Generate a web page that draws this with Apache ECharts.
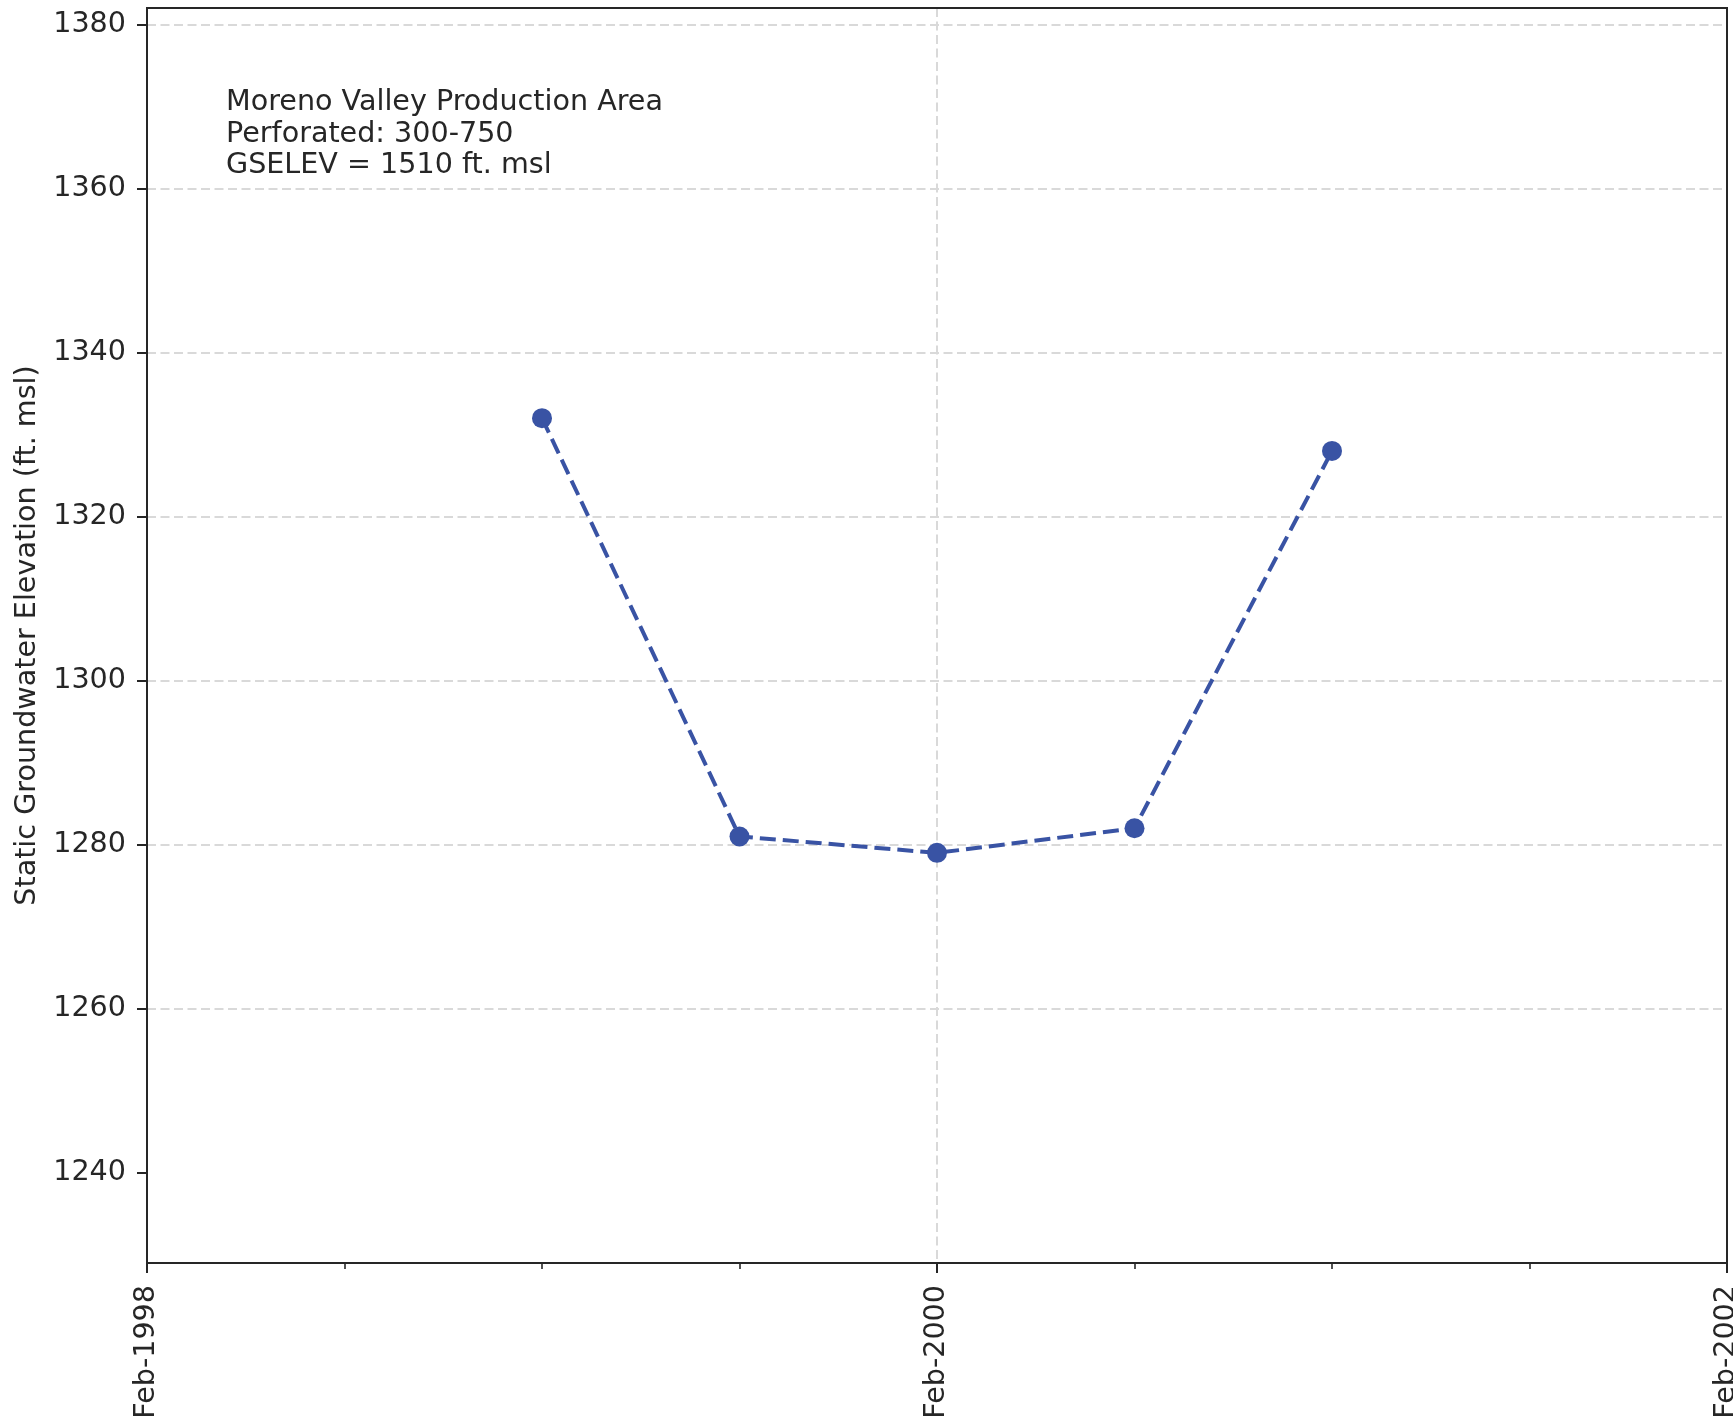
<!DOCTYPE html>
<html><head><meta charset="utf-8">
<script src="https://cdn.jsdelivr.net/npm/echarts@6/dist/echarts.min.js"></script>
<style>html,body{margin:0;padding:0;background:#fff}#c{width:1733px;height:1419px}</style>
</head><body><div id="c"></div>
<script>
// ---- data ----
const dates = ['1999-02', '1999-08', '2000-02', '2000-08', '2001-02'];
const elevations = [1332, 1281, 1279, 1282, 1328];
const xTickLabels = ['Feb-1998', 'Feb-2000', 'Feb-2002'];
const yTicks = [1240, 1260, 1280, 1300, 1320, 1340, 1360, 1380];
const annotationLines = ['Moreno Valley Production Area', 'Perforated: 300-750', 'GSELEV = 1510 ft. msl'];
const yAxisTitle = 'Static Groundwater Elevation (ft. msl)';
const axisStart = '1998-02';

// months since axis start (Feb-1998)
function monthIndex(s) {
  const [y, m] = s.split('-').map(Number);
  const [y0, m0] = axisStart.split('-').map(Number);
  return (y - y0) * 12 + (m - m0);
}
const seriesData = dates.map((d, i) => [monthIndex(d), elevations[i]]);

const FONT = 'DejaVu Sans';
const TXT = '#262626';
const FS = 28.6;

const chart = echarts.init(document.getElementById('c'), null, {renderer: 'canvas'});
chart.setOption({
  animation: false,
  backgroundColor: '#ffffff',
  grid: {left: 147, right: 6, top: 8, bottom: 156, outerBoundsMode: 'none', containLabel: false,
         show: true, borderColor: TXT, borderWidth: 2, backgroundColor: 'transparent', z: 3},
  xAxis: {
    type: 'value', min: 0, max: 48, interval: 24,
    axisLine: {show: true, onZero: false, lineStyle: {color: TXT, width: 2}},
    axisTick: {show: true, length: 10, lineStyle: {color: TXT, width: 2}},
    minorTick: {show: true, splitNumber: 4, length: 6, lineStyle: {color: TXT, width: 1.6}},
    axisLabel: {
      rotate: 90, margin: 22, color: TXT, fontFamily: FONT, fontSize: FS,
      formatter: v => xTickLabels[Math.round(v / 24)] || ''
    },
    splitLine: {show: true, showMinLine: false, showMaxLine: false, lineStyle: {color: '#d9d9d9', width: 2, type: [9, 4.5]}}
  },
  yAxis: {
    type: 'value', min: 1229, max: 1382, splitNumber: 8,
    name: yAxisTitle, nameLocation: 'middle', nameRotate: 90, nameGap: 93,
    nameTextStyle: {color: TXT, fontFamily: FONT, fontSize: FS},
    axisLine: {show: true, onZero: false, lineStyle: {color: TXT, width: 2}},
    axisTick: {show: true, length: 10, customValues: yTicks, lineStyle: {color: TXT, width: 2}},
    axisLabel: {margin: 21, customValues: yTicks, color: TXT, fontFamily: FONT, fontSize: FS,
      formatter: v => String(v)},
    splitLine: {show: true, showMinLine: false, showMaxLine: true, lineStyle: {color: '#d9d9d9', width: 2, type: [9, 4.5]}}
  },
  graphic: [{
    type: 'text', left: 226, top: 87,
    style: {text: annotationLines.join('\n'), fill: TXT, font: FS + 'px "' + FONT + '"', lineHeight: 31.5}
  }],
  series: [{
    type: 'line', data: seriesData,
    symbol: 'circle', symbolSize: 20,
    itemStyle: {color: '#3953a4'},
    lineStyle: {color: '#3953a4', width: 4, type: [16, 7]}
  }]
});
</script></body></html>
